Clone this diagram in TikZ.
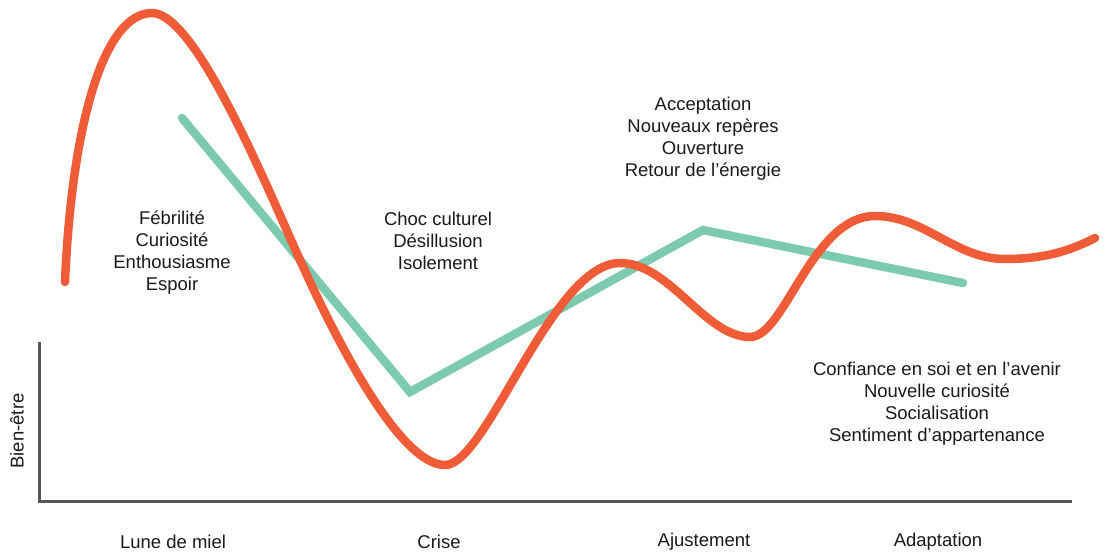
\documentclass[tikz,border=0pt]{standalone}
\usepackage{fontspec}
\setmainfont{Liberation Sans}
\definecolor{curveRed}{RGB}{241, 92, 56}
\definecolor{lineGreen}{RGB}{124, 203, 175}
\definecolor{axisGrey}{RGB}{87, 87, 87}
\definecolor{textBlack}{RGB}{26, 26, 26}

\begin{document}
\begin{tikzpicture}[x=1pt, y=-1pt,
    every node/.style={font=\fontsize{18.5}{22}\selectfont, text=textBlack, align=center, inner sep=0pt}]
  \useasboundingbox (0,0) rectangle (1106,554);
  \draw[axisGrey, line width=3pt] (39,342) -- (39,501) -- (1072,501);
  \node[rotate=90] (ylabel) at (17,431) {Bien-être};

  \draw[lineGreen, line width=8.5pt, line cap=round, line join=miter]
    (182,118) -- (410,392) -- (703,230) -- (963,283);
  \draw[curveRed, line width=8.5pt, line cap=round]
    (65,282) .. controls (72,120) and (105,13) .. (152,13)
    .. controls (195,13) and (263,178) .. (300,260)
    .. controls (337,342) and (400,465) .. (445,465)
    .. controls (487,465) and (552,263) .. (620,263)
    .. controls (670,263) and (705,337) .. (750,337)
    .. controls (785,337) and (812,216) .. (875,216)
    .. controls (925,216) and (955,259) .. (1005,259)
    .. controls (1050,259) and (1075,248) .. (1095,238);

  \node (honeymoon) at (172,253) {Fébrilité\\Curiosité\\Enthousiasme\\Espoir};
  \node (crisis) at (438,241) {Choc culturel\\Désillusion\\Isolement};
  \node (adjust) at (703,139) {Acceptation\\Nouveaux repères\\Ouverture\\Retour de l’énergie};
  \node (adapt) at (937,404) {Confiance en soi et en l'avenir\\Nouvelle curiosité\\Socialisation\\Sentiment d'appartenance};

  \node (phase1) at (173,542) {Lune de miel};
  \node (phase2) at (439,542) {Crise};
  \node (phase3) at (704,542) {Ajustement};
  \node (phase4) at (938,542) {Adaptation};
\end{tikzpicture}
\end{document}
